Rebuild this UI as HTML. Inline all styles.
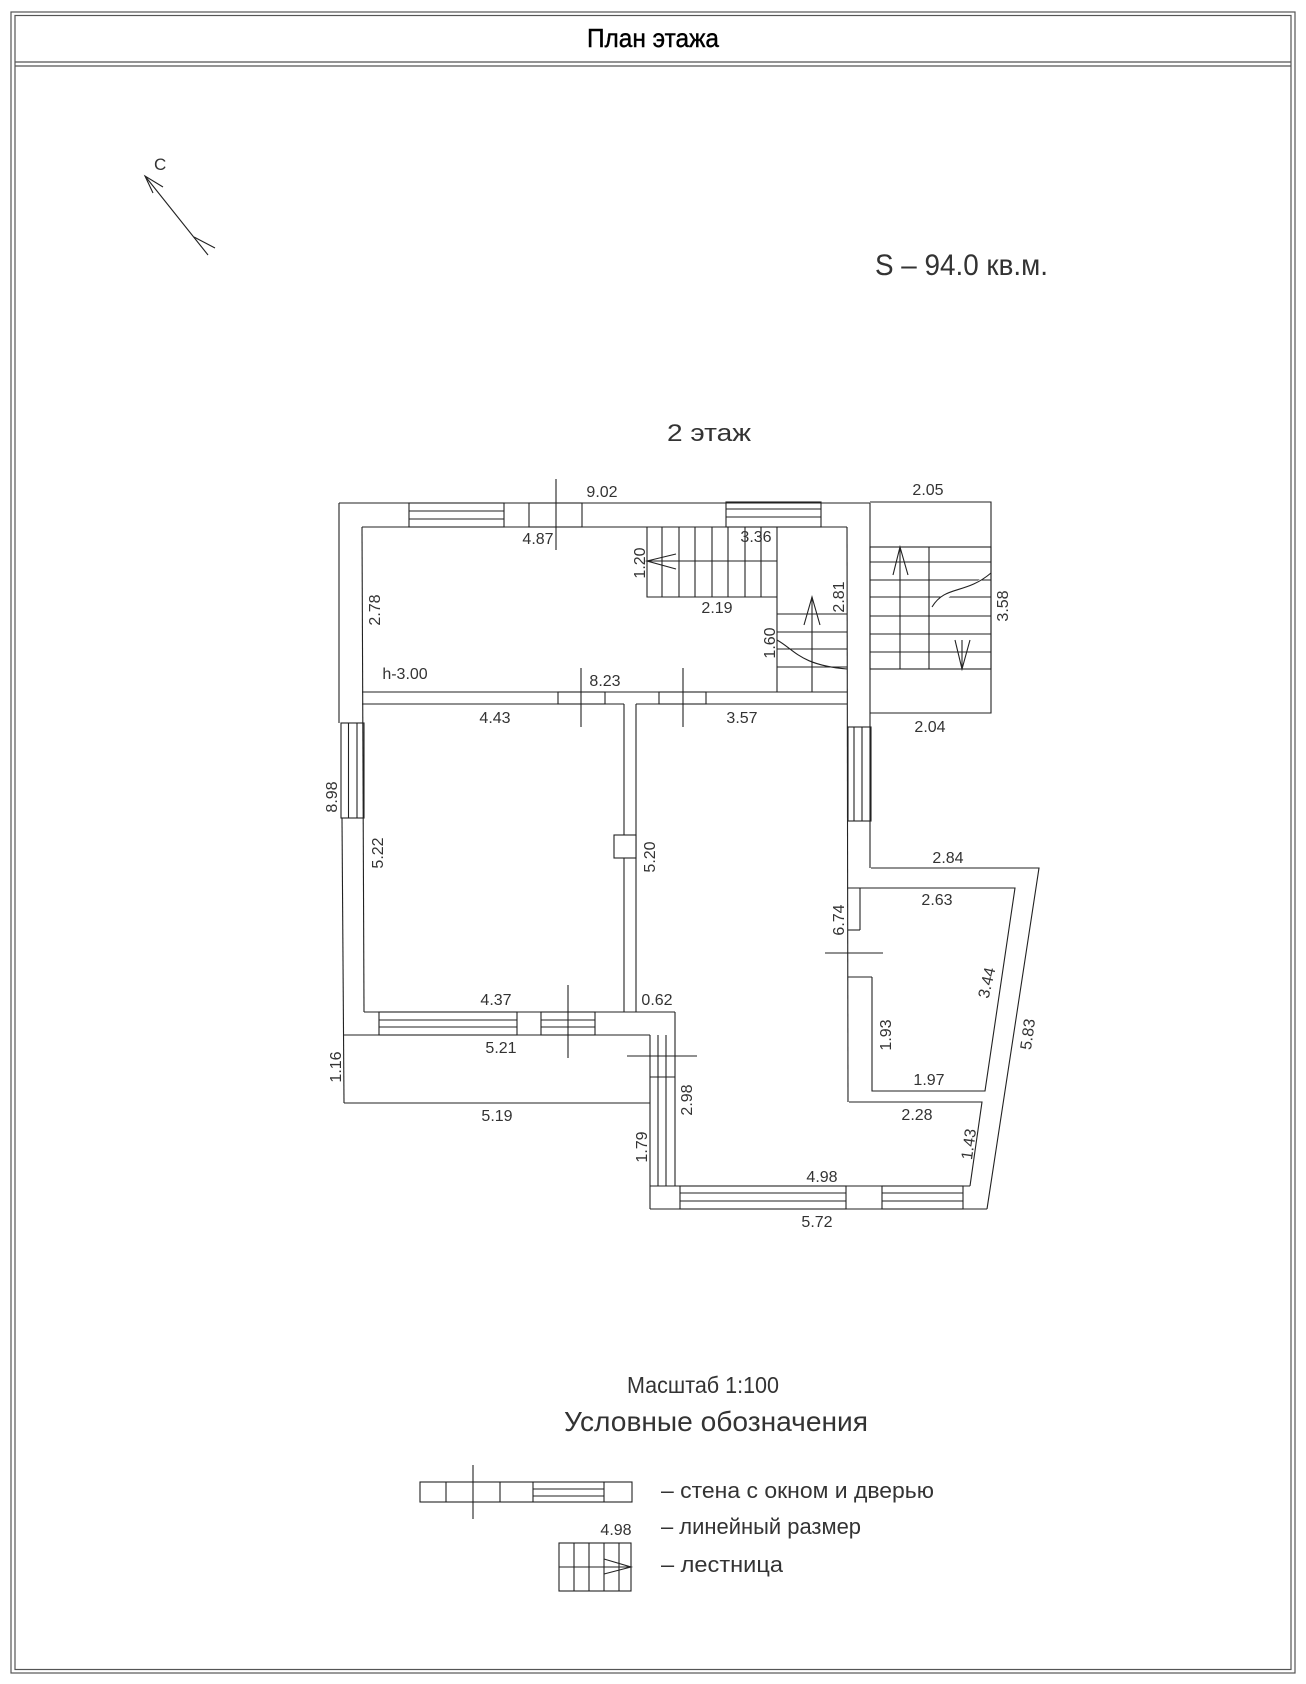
<!DOCTYPE html>
<html><head><meta charset="utf-8"><style>
html,body{margin:0;padding:0;background:#fff}
svg{display:block}
text{font-family:"Liberation Sans",sans-serif;fill:#333}
.n{font-size:16px}
</style></head><body>
<svg width="1306" height="1684" viewBox="0 0 1306 1684" xmlns="http://www.w3.org/2000/svg">
<g fill="none" stroke="#555" stroke-width="1.2">
<rect x="11" y="12" width="1284" height="1661"/>
<rect x="15" y="15.5" width="1276" height="1654"/>
<line x1="15" y1="62" x2="1291" y2="62"/>
<line x1="15" y1="66" x2="1291" y2="66"/>
</g>
<text x="653" y="47" font-size="26" text-anchor="middle" textLength="132" lengthAdjust="spacingAndGlyphs" style="fill:#000;stroke:#000;stroke-width:0.4">План этажа</text>

<g fill="none" stroke="#222" stroke-width="1.1">
<!-- compass -->
<line x1="145" y1="176" x2="208" y2="255"/>
<polyline points="163,187 145,176 153,193"/>
<line x1="194" y1="237" x2="215" y2="248"/>

<!-- top wall -->
<line x1="339" y1="503" x2="870" y2="503"/>
<line x1="362" y1="527" x2="847" y2="527"/>
<rect x="409" y="503" width="95" height="24"/>
<line x1="409" y1="511" x2="504" y2="511"/><line x1="409" y1="519" x2="504" y2="519"/>
<rect x="529" y="503" width="53" height="24"/>
<line x1="556" y1="479" x2="556" y2="550"/>
<rect x="726" y="502" width="95" height="25"/>
<line x1="726" y1="509" x2="821" y2="509"/><line x1="726" y1="517" x2="821" y2="517"/>

<!-- left wall -->
<line x1="339" y1="503" x2="339" y2="723"/>
<rect x="341" y="723" width="23" height="95"/>
<line x1="348.5" y1="723" x2="348.5" y2="818"/><line x1="357" y1="723" x2="357" y2="818"/>
<line x1="342" y1="818" x2="344" y2="1103"/>
<line x1="362" y1="527" x2="364" y2="1012"/>

<!-- middle wall -->
<line x1="362" y1="692" x2="847" y2="692"/>
<line x1="362" y1="704" x2="624" y2="704"/>
<line x1="636" y1="704" x2="847" y2="704"/>
<rect x="558" y="692" width="47" height="12"/>
<rect x="659" y="692" width="47" height="12"/>
<line x1="581" y1="668" x2="581" y2="727"/>
<line x1="683" y1="668" x2="683" y2="727"/>
<!-- partition -->
<line x1="624" y1="704" x2="624" y2="1012"/>
<line x1="636" y1="704" x2="636" y2="1012"/>
<rect x="614" y="835" width="22" height="23" fill="#fff"/>

<!-- stair 1 -->
<polyline points="647,527 647,597 777,597"/>
<line x1="777" y1="527" x2="777" y2="692"/>
<line x1="647" y1="561" x2="777" y2="561"/>
<line x1="662" y1="527" x2="662" y2="597"/><line x1="679" y1="527" x2="679" y2="597"/>
<line x1="695" y1="527" x2="695" y2="597"/><line x1="712" y1="527" x2="712" y2="597"/>
<line x1="728" y1="527" x2="728" y2="597"/><line x1="745" y1="527" x2="745" y2="597"/>
<line x1="761" y1="527" x2="761" y2="597"/>
<polyline points="676,554 647,561 676,569"/>
<!-- stair 2 -->
<line x1="777" y1="614" x2="847" y2="614"/><line x1="777" y1="632" x2="847" y2="632"/>
<line x1="777" y1="649" x2="847" y2="649"/><line x1="777" y1="667" x2="847" y2="667"/>
<line x1="812" y1="597" x2="812" y2="692"/>
<polyline points="804,625 812,597 820,625"/>
<path d="M777,640 C795,650 800,665 847,669"/>

<!-- right wall -->
<line x1="870" y1="503" x2="870" y2="868"/>
<line x1="847" y1="527" x2="848" y2="1102"/>
<rect x="848" y="727" width="23" height="94"/>
<line x1="854" y1="727" x2="854" y2="821"/><line x1="862" y1="727" x2="862" y2="821"/>

<!-- external stair -->
<polyline points="870,502 991,502 991,713 870,713"/>
<rect x="870" y="547" width="121" height="122"/>
<line x1="870" y1="562" x2="991" y2="562"/><line x1="870" y1="580" x2="991" y2="580"/>
<line x1="870" y1="597" x2="991" y2="597"/><line x1="870" y1="616" x2="991" y2="616"/>
<line x1="870" y1="634" x2="991" y2="634"/><line x1="870" y1="652" x2="991" y2="652"/>
<line x1="900" y1="547" x2="900" y2="669"/>
<line x1="929" y1="547" x2="929" y2="669"/>
<polyline points="893,575 900,547 908,575"/>
<line x1="962" y1="640" x2="962" y2="669"/>
<polyline points="955,640 962,669 970,640"/>
<path d="M932,607 C945,585 965,595 991,573" fill="#fff"/>

<!-- right annex -->
<polyline points="871,868 1039,868 987,1209"/>
<polyline points="848,888 1015,888 985,1091 872,1091 872,977"/>
<line x1="860" y1="888" x2="860" y2="930"/>
<line x1="848" y1="930" x2="860" y2="930"/>
<line x1="825" y1="953" x2="883" y2="953"/>
<line x1="848" y1="977" x2="872" y2="977"/>
<polyline points="849,1102 982,1102 970,1186"/>

<!-- bottom right wall -->
<line x1="650" y1="1209" x2="987" y2="1209"/>
<line x1="675" y1="1186" x2="970" y2="1186"/>
<rect x="680" y="1186" width="166" height="23"/>
<line x1="680" y1="1193" x2="846" y2="1193"/><line x1="680" y1="1201" x2="846" y2="1201"/>
<rect x="882" y="1186" width="81" height="23"/>
<line x1="882" y1="1193" x2="963" y2="1193"/><line x1="882" y1="1201" x2="963" y2="1201"/>
<line x1="650" y1="1035" x2="650" y2="1209"/>
<line x1="675" y1="1012" x2="675" y2="1186"/>
<line x1="650" y1="1186" x2="675" y2="1186"/>
<line x1="658" y1="1035" x2="658" y2="1186"/><line x1="666" y1="1035" x2="666" y2="1186"/>
<line x1="650" y1="1077" x2="675" y2="1077"/>
<line x1="627" y1="1056" x2="697" y2="1056"/>

<!-- lower left wall -->
<line x1="364" y1="1012" x2="675" y2="1012"/>
<line x1="344" y1="1035" x2="650" y2="1035"/>
<rect x="379" y="1012" width="138" height="23"/>
<line x1="379" y1="1020" x2="517" y2="1020"/><line x1="379" y1="1027" x2="517" y2="1027"/>
<rect x="541" y="1012" width="54" height="23"/>
<line x1="541" y1="1020" x2="595" y2="1020"/><line x1="541" y1="1027" x2="595" y2="1027"/>
<line x1="568" y1="985" x2="568" y2="1058"/>
<line x1="344" y1="1103" x2="650" y2="1103"/>

<!-- legend -->
<rect x="420" y="1482" width="212" height="20"/>
<line x1="446" y1="1482" x2="446" y2="1502"/><line x1="500" y1="1482" x2="500" y2="1502"/>
<line x1="533" y1="1482" x2="533" y2="1502"/><line x1="604" y1="1482" x2="604" y2="1502"/>
<line x1="533" y1="1489" x2="604" y2="1489"/><line x1="533" y1="1496" x2="604" y2="1496"/>
<line x1="473" y1="1465" x2="473" y2="1519"/>
<rect x="559" y="1543" width="72" height="48"/>
<line x1="574" y1="1543" x2="574" y2="1591"/><line x1="589" y1="1543" x2="589" y2="1591"/>
<line x1="604" y1="1543" x2="604" y2="1591"/><line x1="619" y1="1543" x2="619" y2="1591"/>
<line x1="559" y1="1567" x2="631" y2="1567"/>
<polyline points="604,1559 631,1567 604,1574"/>
</g>

<text x="154" y="170" font-size="17">С</text>
<text x="875" y="275" font-size="30" textLength="173" lengthAdjust="spacingAndGlyphs">S – 94.0 кв.м.</text>
<text x="667" y="441" font-size="24" textLength="84" lengthAdjust="spacingAndGlyphs">2 этаж</text>

<g class="n" text-anchor="middle">
<text x="602" y="497">9.02</text>
<text x="928" y="495">2.05</text>
<text x="538" y="544">4.87</text>
<text x="756" y="542">3.36</text>
<text x="717" y="613">2.19</text>
<text x="405" y="679">h-3.00</text>
<text x="605" y="686">8.23</text>
<text x="495" y="723">4.43</text>
<text x="742" y="723">3.57</text>
<text x="930" y="732">2.04</text>
<text x="948" y="863">2.84</text>
<text x="937" y="905">2.63</text>
<text x="496" y="1005">4.37</text>
<text x="657" y="1005">0.62</text>
<text x="501" y="1053">5.21</text>
<text x="497" y="1121">5.19</text>
<text x="929" y="1085">1.97</text>
<text x="917" y="1120">2.28</text>
<text x="822" y="1182">4.98</text>
<text x="817" y="1227">5.72</text>
<text transform="translate(645,563) rotate(-90)">1.20</text>
<text transform="translate(844,597) rotate(-90)">2.81</text>
<text transform="translate(775,643) rotate(-90)">1.60</text>
<text transform="translate(380,610) rotate(-90)">2.78</text>
<text transform="translate(1008,606) rotate(-90)">3.58</text>
<text transform="translate(337,797) rotate(-90)">8.98</text>
<text transform="translate(383,853) rotate(-90)">5.22</text>
<text transform="translate(655,857) rotate(-90)">5.20</text>
<text transform="translate(844,920) rotate(-90)">6.74</text>
<text transform="translate(992,984) rotate(-77)">3.44</text>
<text transform="translate(341,1067) rotate(-90)">1.16</text>
<text transform="translate(692,1100) rotate(-90)">2.98</text>
<text transform="translate(647,1147) rotate(-90)">1.79</text>
<text transform="translate(891,1035) rotate(-90)">1.93</text>
<text transform="translate(1033,1035) rotate(-82)">5.83</text>
<text transform="translate(974,1145) rotate(-82)">1.43</text>
<text x="616" y="1535">4.98</text>
</g>

<text x="627" y="1393" font-size="23" textLength="152" lengthAdjust="spacingAndGlyphs">Масштаб 1:100</text>
<text x="564" y="1431" font-size="28" textLength="304" lengthAdjust="spacingAndGlyphs">Условные обозначения</text>
<text x="661" y="1498" font-size="22" textLength="273" lengthAdjust="spacingAndGlyphs">– стена с окном и дверью</text>
<text x="661" y="1534" font-size="22" textLength="200" lengthAdjust="spacingAndGlyphs">– линейный размер</text>
<text x="661" y="1572" font-size="22" textLength="122" lengthAdjust="spacingAndGlyphs">– лестница</text>
</svg>
</body></html>
